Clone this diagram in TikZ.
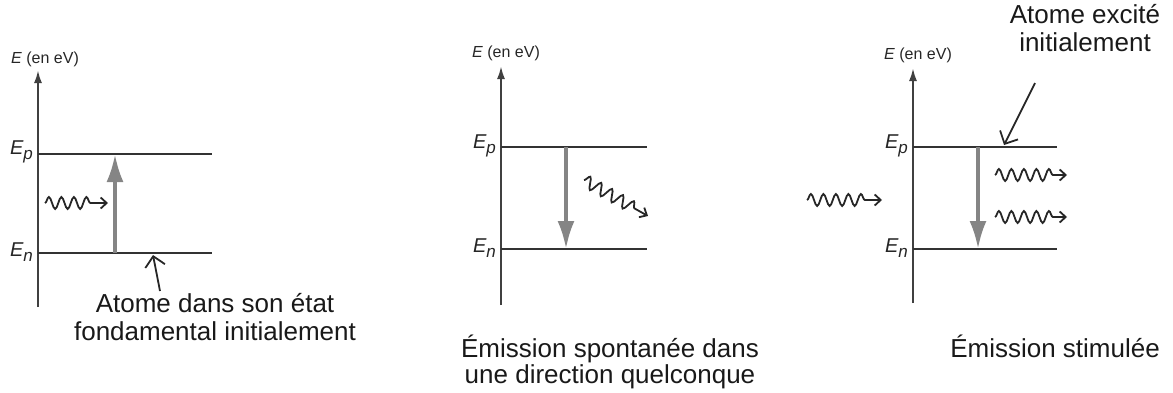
\documentclass[tikz,border=0pt]{standalone}
\usepackage{fontspec}
\setmainfont{Liberation Sans}
\usetikzlibrary{arrows.meta,decorations.pathmorphing}
\tikzset{
 lvl/.style={line width=2.6pt, draw=black!80},
 axisline/.style={line width=2.2pt, draw=black!75, -{Latex[length=13pt,width=8pt]}},
 trans/.style={line width=3.8pt, draw=black!48, -{Latex[length=28pt,width=17pt]}},
 note/.style={line width=1.8pt, draw=black!85, -{Straight Barb[length=10pt,width=20pt]}},
 photon/.style={line width=1.8pt, draw=black!85, decorate, decoration={snake, amplitude=6pt, segment length=12.5pt, post length=13pt}, -{Straight Barb[length=6pt,width=11pt]}},
 elab/.style={font=\fontsize{16}{18}\selectfont, anchor=base, inner sep=0pt, text=black!85},
 lvllab/.style={anchor=east, font=\fontsize{20}{22}\selectfont\itshape, inner sep=0pt, text=black!85},
 captext/.style={font=\fontsize{26}{28}\selectfont, align=center, text=black!90, anchor=base, inner sep=0pt},
}
\newcommand{\lvlname}[1]{E\raisebox{-0.5ex}{\fontsize{17}{17}\selectfont #1}}
\begin{document}
\begin{tikzpicture}[x=1pt,y=-1pt]
\useasboundingbox (0,0) rectangle (1173,392);
% ---------- panel 1 ----------
\coordinate (a1b) at (38,307); \coordinate (a1t) at (38,70);
\coordinate (p1a) at (38,154); \coordinate (p1b) at (212,154);
\coordinate (n1a) at (38,253); \coordinate (n1b) at (212,253);
\coordinate (g1a) at (115,253); \coordinate (g1b) at (115,154);
\coordinate (w1a) at (45,203); \coordinate (w1b) at (108,203);
\coordinate (k1a) at (160,291); \coordinate (k1b) at (153,255);
\draw[axisline] (a1b) -- (a1t);
\draw[lvl] (p1a) -- (p1b);
\draw[lvl] (n1a) -- (n1b);
\draw[trans] (g1a) -- (g1b);
\draw[photon] (w1a) -- (w1b);
\draw[note] (k1a) -- (k1b);
\node[elab] (e1) at (45,63) {\textit{E} (en eV)};
\node[lvllab] (lp1) at (33,152) {\lvlname{p}};
\node[lvllab] (ln1) at (33,252) {\lvlname{n}};
\node[captext] (t1) at (215,340) {Atome dans son état\\fondamental initialement};
% ---------- panel 2 ----------
\coordinate (a2b) at (501,305); \coordinate (a2t) at (501,66);
\coordinate (p2a) at (501,147); \coordinate (p2b) at (647,147);
\coordinate (n2a) at (501,249); \coordinate (n2b) at (647,249);
\coordinate (g2a) at (566,147); \coordinate (g2b) at (566,249);
\coordinate (w2a) at (584,180); \coordinate (w2b) at (648,216);
\draw[axisline] (a2b) -- (a2t);
\draw[lvl] (p2a) -- (p2b);
\draw[lvl] (n2a) -- (n2b);
\draw[trans] (g2a) -- (g2b);
\draw[photon] (w2a) -- (w2b);
\node[elab] (e2) at (506,57) {\textit{E} (en eV)};
\node[lvllab] (lp2) at (496,146) {\lvlname{p}};
\node[lvllab] (ln2) at (496,248) {\lvlname{n}};
\node[captext, font=\fontsize{26}{26}\selectfont] (t2) at (610,383) {Émission spontanée dans\\une direction quelconque};
% ---------- panel 3 ----------
\coordinate (a3b) at (913,303); \coordinate (a3t) at (913,68);
\coordinate (p3a) at (913,147); \coordinate (p3b) at (1057,147);
\coordinate (n3a) at (913,249); \coordinate (n3b) at (1057,249);
\coordinate (g3a) at (978,147); \coordinate (g3b) at (978,249);
\coordinate (w3a) at (807,200); \coordinate (w3b) at (882,200);
\coordinate (w4a) at (995,175); \coordinate (w4b) at (1067,175);
\coordinate (w5a) at (995,217); \coordinate (w5b) at (1067,217);
\coordinate (k3a) at (1035,83); \coordinate (k3b) at (1004,145);
\draw[axisline] (a3b) -- (a3t);
\draw[lvl] (p3a) -- (p3b);
\draw[lvl] (n3a) -- (n3b);
\draw[trans] (g3a) -- (g3b);
\draw[photon] (w3a) -- (w3b);
\draw[photon] (w4a) -- (w4b);
\draw[photon] (w5a) -- (w5b);
\draw[note] (k3a) -- (k3b);
\node[elab] (e3) at (918,59) {\textit{E} (en eV)};
\node[lvllab] (lp3) at (908,146) {\lvlname{p}};
\node[lvllab] (ln3) at (908,248) {\lvlname{n}};
\node[captext] (t3) at (1055,357) {Émission stimulée};
\node[captext] (t4) at (1085,51) {Atome excité\\initialement};
\end{tikzpicture}
\end{document}
